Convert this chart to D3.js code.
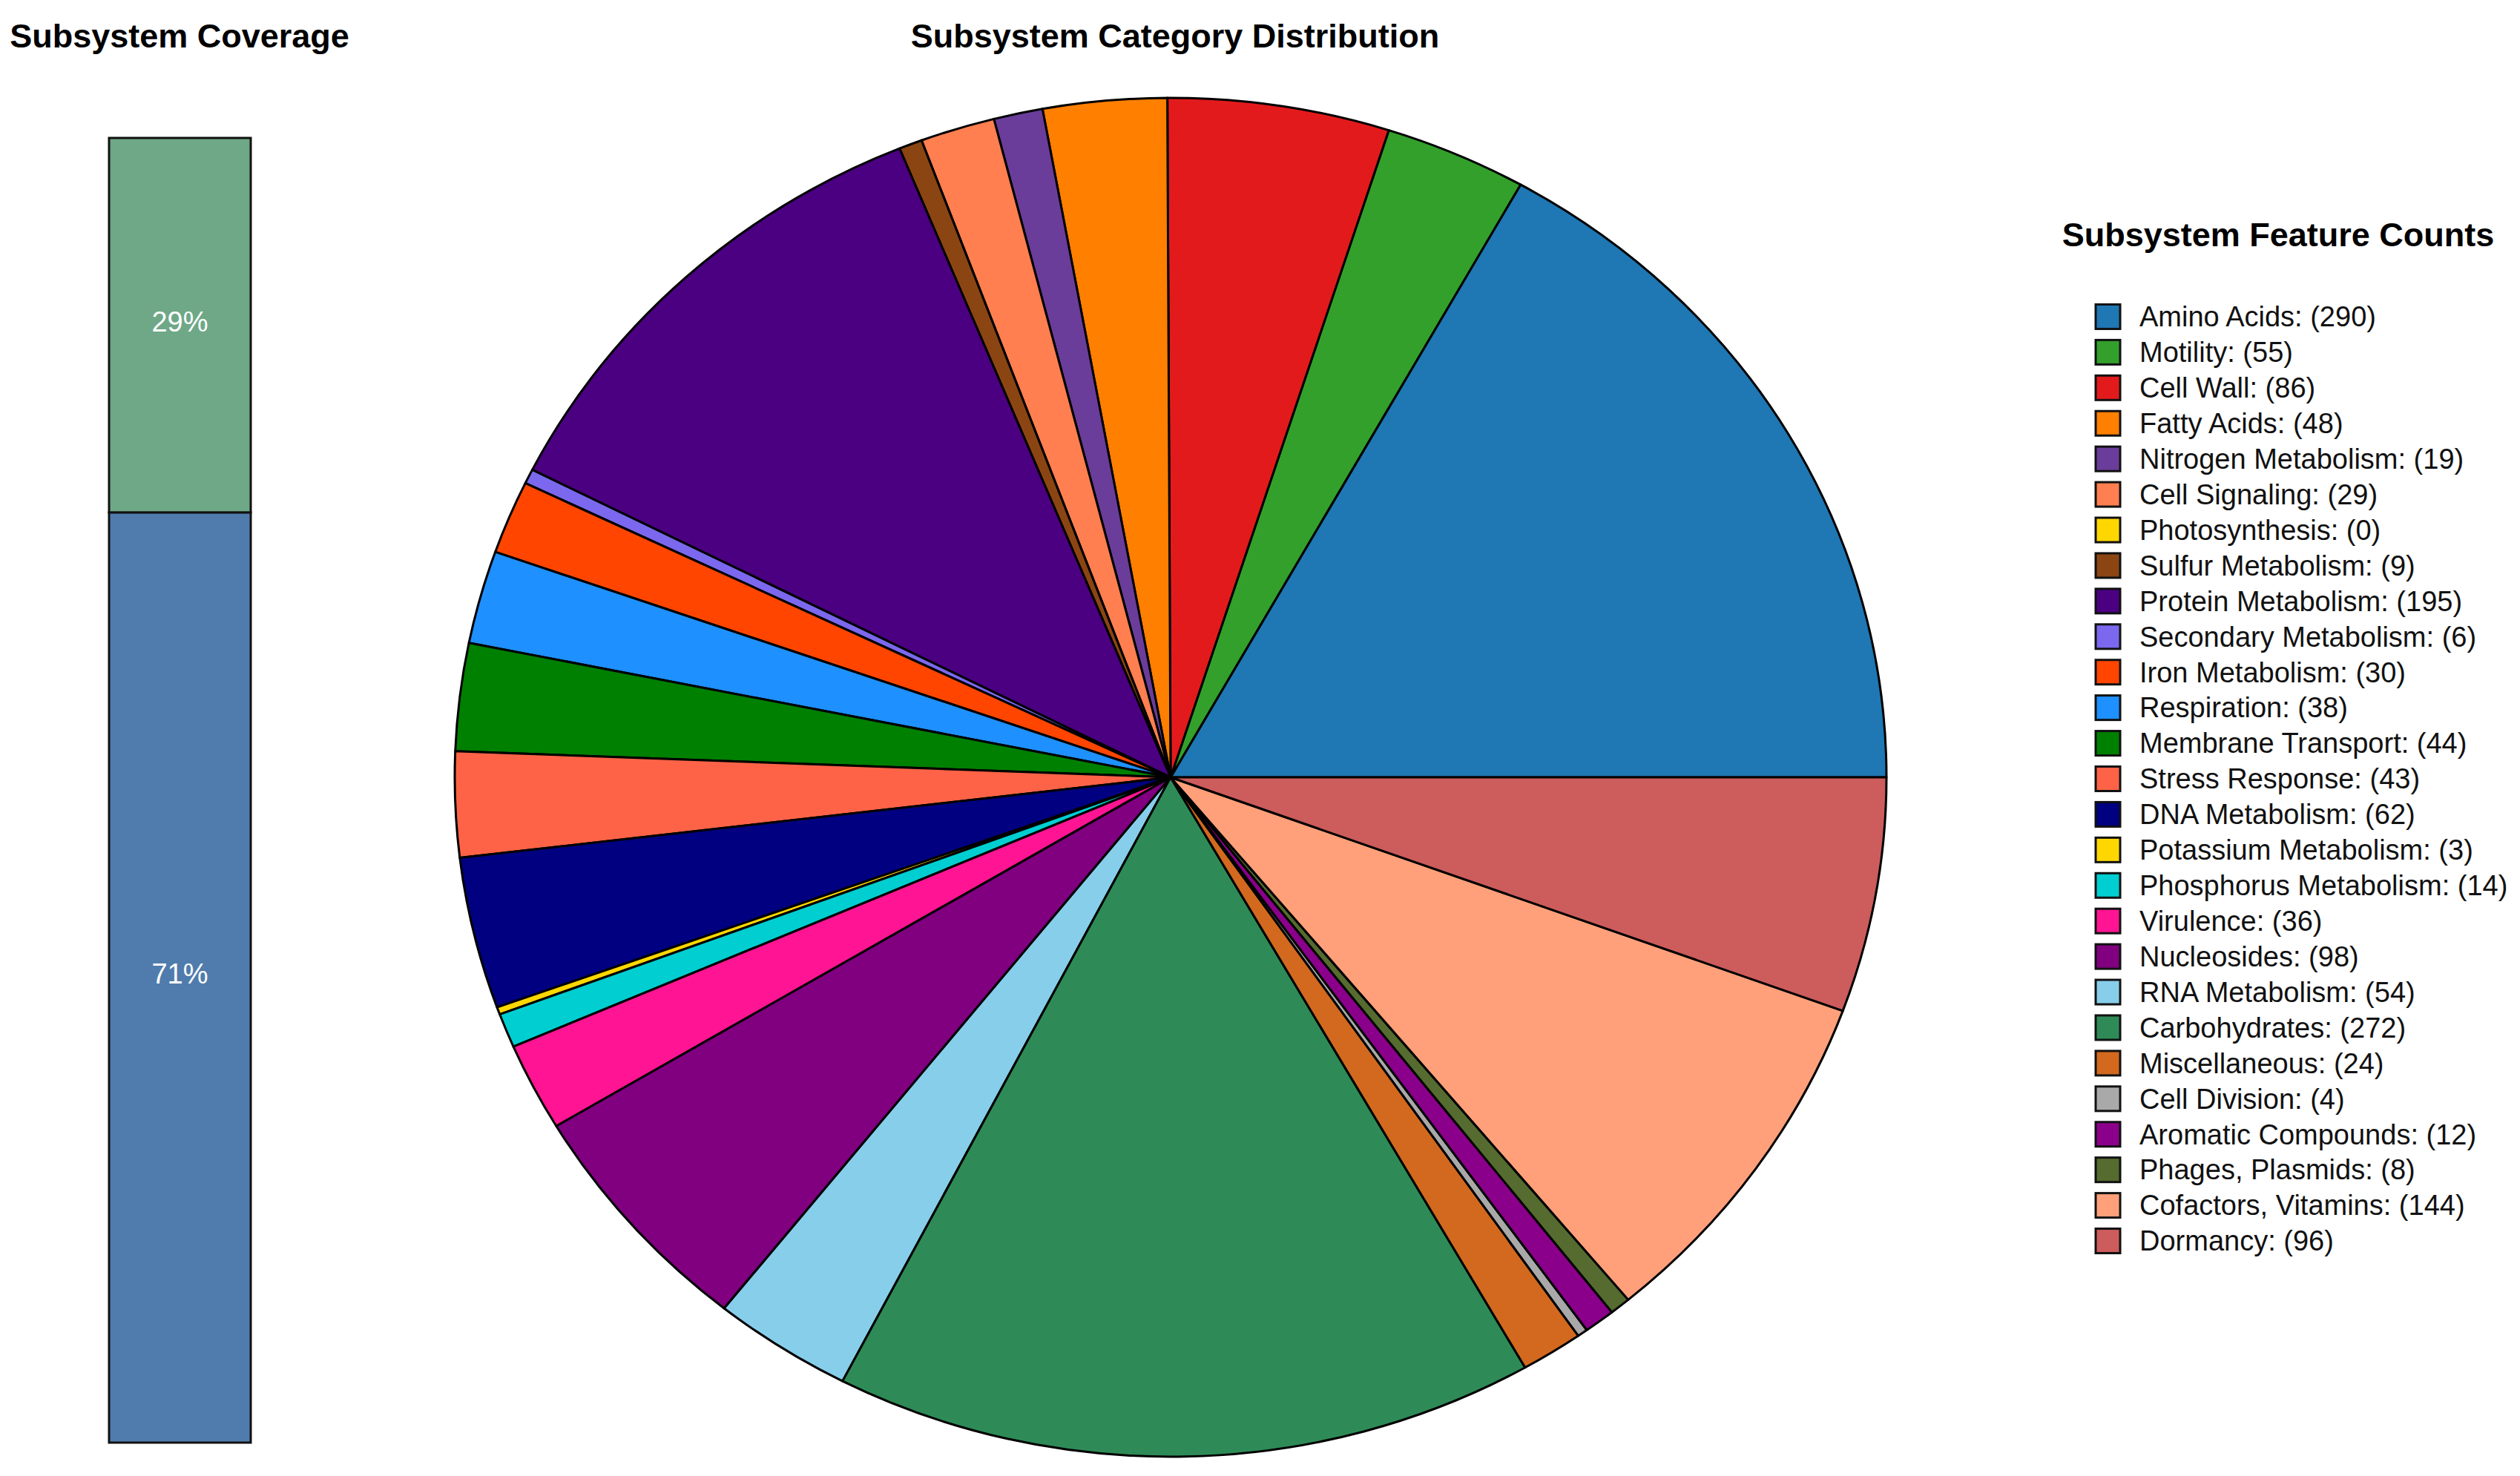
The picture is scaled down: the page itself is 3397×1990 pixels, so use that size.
<!DOCTYPE html>
<html>
<head>
<meta charset="utf-8">
<script src="https://cdn.jsdelivr.net/npm/d3@7"></script>
<style>
  body { margin: 0; background: #fff; }
  svg { display: block; font-family: "Liberation Sans", Arial, sans-serif; }
  .title { font-weight: bold; font-size: 45px; fill: #000; }
  .legend_text { font-size: 38px; fill: #111; }
  .bar_label { font-size: 38px; fill: #fff; }
</style>
</head>
<body>
<div id="chart"></div>
<script>

// category counts
var categories = ["Amino Acids", "Motility", "Cell Wall", "Fatty Acids", "Nitrogen Metabolism",
  "Cell Signaling", "Photosynthesis", "Sulfur Metabolism", "Protein Metabolism",
  "Secondary Metabolism", "Iron Metabolism", "Respiration", "Membrane Transport",
  "Stress Response", "DNA Metabolism", "Potassium Metabolism", "Phosphorus Metabolism",
  "Virulence", "Nucleosides", "RNA Metabolism", "Carbohydrates", "Miscellaneous",
  "Cell Division", "Aromatic Compounds", "Phages, Plasmids", "Cofactors, Vitamins", "Dormancy"];
var counts = [290, 55, 86, 48, 19, 29, 0, 9, 195, 6, 30, 38, 44, 43, 62, 3, 14, 36, 98, 54,
  272, 24, 4, 12, 8, 144, 96];
var catColors = ["#1f77b4", "#33a02c", "#e31a1c", "#ff7f00", "#6a3d9a", "#ff7f50", "#ffd700",
  "#8b4513", "#4b0082", "#7b68ee", "#ff4500", "#1e90ff", "#008000", "#ff6347", "#000080",
  "#ffd700", "#00ced1", "#ff1493", "#800080", "#87ceeb", "#2e8b57", "#d2691e", "#a9a9a9",
  "#8b008b", "#556b2f", "#ffa07a", "#cd5c5c"];

// coverage bar (bottom segment first), percent
var coverageParts = ["Not in subsystem", "In subsystem"];
var coveragePct = [71.3, 28.7];
var coverageColors = ["#507cad", "#6ea887"];

var W = 3397, H = 1990;

var svg = d3.select("#chart").append("svg")
  .attr("width", W)
  .attr("height", H);

// ---- coverage bar ----
var bar_x0 = 147, bar_w = 191;
var yBar = d3.scaleLinear().domain([0, 100]).range([1945, 186]);

var stacked = [];
var acc = 0;
coveragePct.forEach(function(v, i) {
  stacked.push({name: coverageParts[i], v0: acc, v1: acc + v, pct: v, color: coverageColors[i]});
  acc += v;
});

svg.append("text")
  .attr("class", "title")
  .attr("x", 242)
  .attr("y", 64)
  .style("text-anchor", "middle")
  .text("Subsystem Coverage");

var barG = svg.append("g");
barG.selectAll("rect")
  .data(stacked)
  .enter()
  .append("rect")
    .attr("x", bar_x0)
    .attr("y", function(d) { return yBar(d.v1); })
    .attr("width", bar_w)
    .attr("height", function(d) { return yBar(d.v0) - yBar(d.v1); })
    .attr("fill", function(d) { return d.color; })
    .attr("stroke", "#111")
    .attr("stroke-width", 3);

barG.selectAll("text")
  .data(stacked)
  .enter()
  .append("text")
    .attr("class", "bar_label")
    .attr("x", bar_x0 + bar_w / 2)
    .attr("y", function(d) { return yBar((d.v0 + d.v1) / 2); })
    .attr("dy", "0.22em")
    .style("text-anchor", "middle")
    .text(function(d) { return Math.round(d.pct) + "%"; });

// ---- pie ----
var cx = 1578, cy = 1048, ry = 916, rx = 965;

svg.append("text")
  .attr("class", "title")
  .attr("x", 1584)
  .attr("y", 64)
  .style("text-anchor", "middle")
  .text("Subsystem Category Distribution");

var pieData = categories.map(function(c, i) { return {name: c, value: counts[i], color: catColors[i]}; });

// counter-clockwise from 3 o'clock
var pie = d3.pie()
  .sort(null)
  .value(function(d) { return d.value; })
  .startAngle(Math.PI / 2)
  .endAngle(Math.PI / 2 - 2 * Math.PI);

var arc = d3.arc().innerRadius(0).outerRadius(ry);

var pieG = svg.append("g")
  .attr("transform", "translate(" + cx + "," + cy + ") scale(" + (rx / ry) + ",1)");

pieG.selectAll("path")
  .data(pie(pieData))
  .enter()
  .append("path")
    .attr("d", arc)
    .attr("fill", function(d) { return d.data.color; })
    .attr("stroke", "#000")
    .attr("stroke-width", 3)
    .attr("stroke-linejoin", "round")
    .attr("vector-effect", "non-scaling-stroke");

// ---- legend ----
var leg_x = 2825, sw = 33;
var yLeg = d3.scaleBand().domain(categories).range([403, 1697]);

svg.append("text")
  .attr("class", "title")
  .attr("x", 3071)
  .attr("y", 332)
  .style("text-anchor", "middle")
  .text("Subsystem Feature Counts");

var legItems = svg.append("g")
  .selectAll("g")
  .data(pieData)
  .enter()
  .append("g")
    .attr("transform", function(d) { return "translate(0," + (yLeg(d.name) + yLeg.bandwidth() / 2) + ")"; });

legItems.append("rect")
  .attr("x", leg_x)
  .attr("y", -sw / 2)
  .attr("width", sw)
  .attr("height", sw)
  .attr("fill", function(d) { return d.color; })
  .attr("stroke", "#111")
  .attr("stroke-width", 3);

legItems.append("text")
  .attr("class", "legend_text")
  .attr("x", 2884)
  .attr("dy", "0.35em")
  .text(function(d) { return d.name + ": (" + d.value + ")"; });

</script>
</body>
</html>
